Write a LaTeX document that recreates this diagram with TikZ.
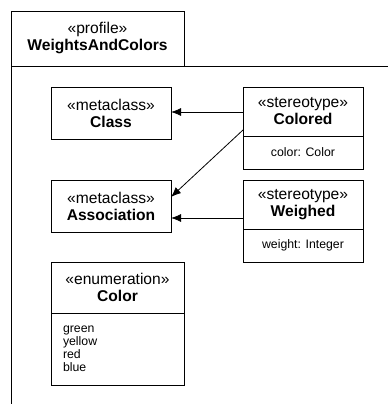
\documentclass[tikz,border=0pt]{standalone}
\usepackage{fontspec}
\setmainfont{Liberation Sans}
\usetikzlibrary{positioning,arrows.meta}

\begin{document}
\begin{tikzpicture}[x=1pt,y=-1pt,line width=0.8pt,
    head/.style={draw,outer sep=0pt,inner sep=0pt,align=center,minimum width=120pt,
      minimum height=49pt,font=\fontsize{15.6}{17}\selectfont},
    slot/.style={draw,outer sep=0pt,inner sep=0pt,minimum width=120pt,minimum height=33pt,
      font=\fontsize{12.3}{13}\selectfont},
    ext/.style={->,>={Latex[length=10pt,width=8pt]}}]
  \useasboundingbox (0,0) rectangle (388,404);

  % profile frame
  \node[head,anchor=north west,minimum width=173pt,minimum height=55pt] (pkg) at (11,11)
    {«profile»\\\textbf{WeightsAndColors}};
  \draw (pkg.south west) -- ++(0,338);
  \draw (pkg.south east) -- ++(204,0);

  % metaclasses
  \node[head,anchor=north west,minimum height=52pt] (cls) at (51,87) {«metaclass»\\\textbf{Class}};
  \node[head,anchor=north west,minimum height=52pt] (assoc) at (51,180) {«metaclass»\\\textbf{Association}};

  % stereotypes
  \node[head,anchor=north west] (colored) at (243,87) {«stereotype»\\\textbf{Colored}};
  \node[slot,below=0pt of colored] (coloredattr) {color: Color};
  \node[head,anchor=north west] (weighed) at (243,180) {«stereotype»\\\textbf{Weighed}};
  \node[slot,below=0pt of weighed] (weighedattr) {weight: Integer};

  % enumeration
  \node[head,anchor=north west,minimum width=133pt,minimum height=51pt] (color) at (51,262)
    {«enumeration»\\\textbf{Color}};
  \node[slot,below=0pt of color,minimum width=133pt,minimum height=72pt,text width=109pt,
    align=left] (colorlits) {green\\yellow\\red\\blue};

  % extensions
  \draw[ext] ([yshift=-25pt]colored.north west) -- ([yshift=-25pt]cls.north east);
  \draw[ext] ([yshift=6pt]colored.south west) -- ([yshift=-17pt]assoc.north east);
  \draw[ext] ([yshift=-38pt]weighed.north west) -- ([yshift=-38pt]assoc.north east);
\end{tikzpicture}
\end{document}
